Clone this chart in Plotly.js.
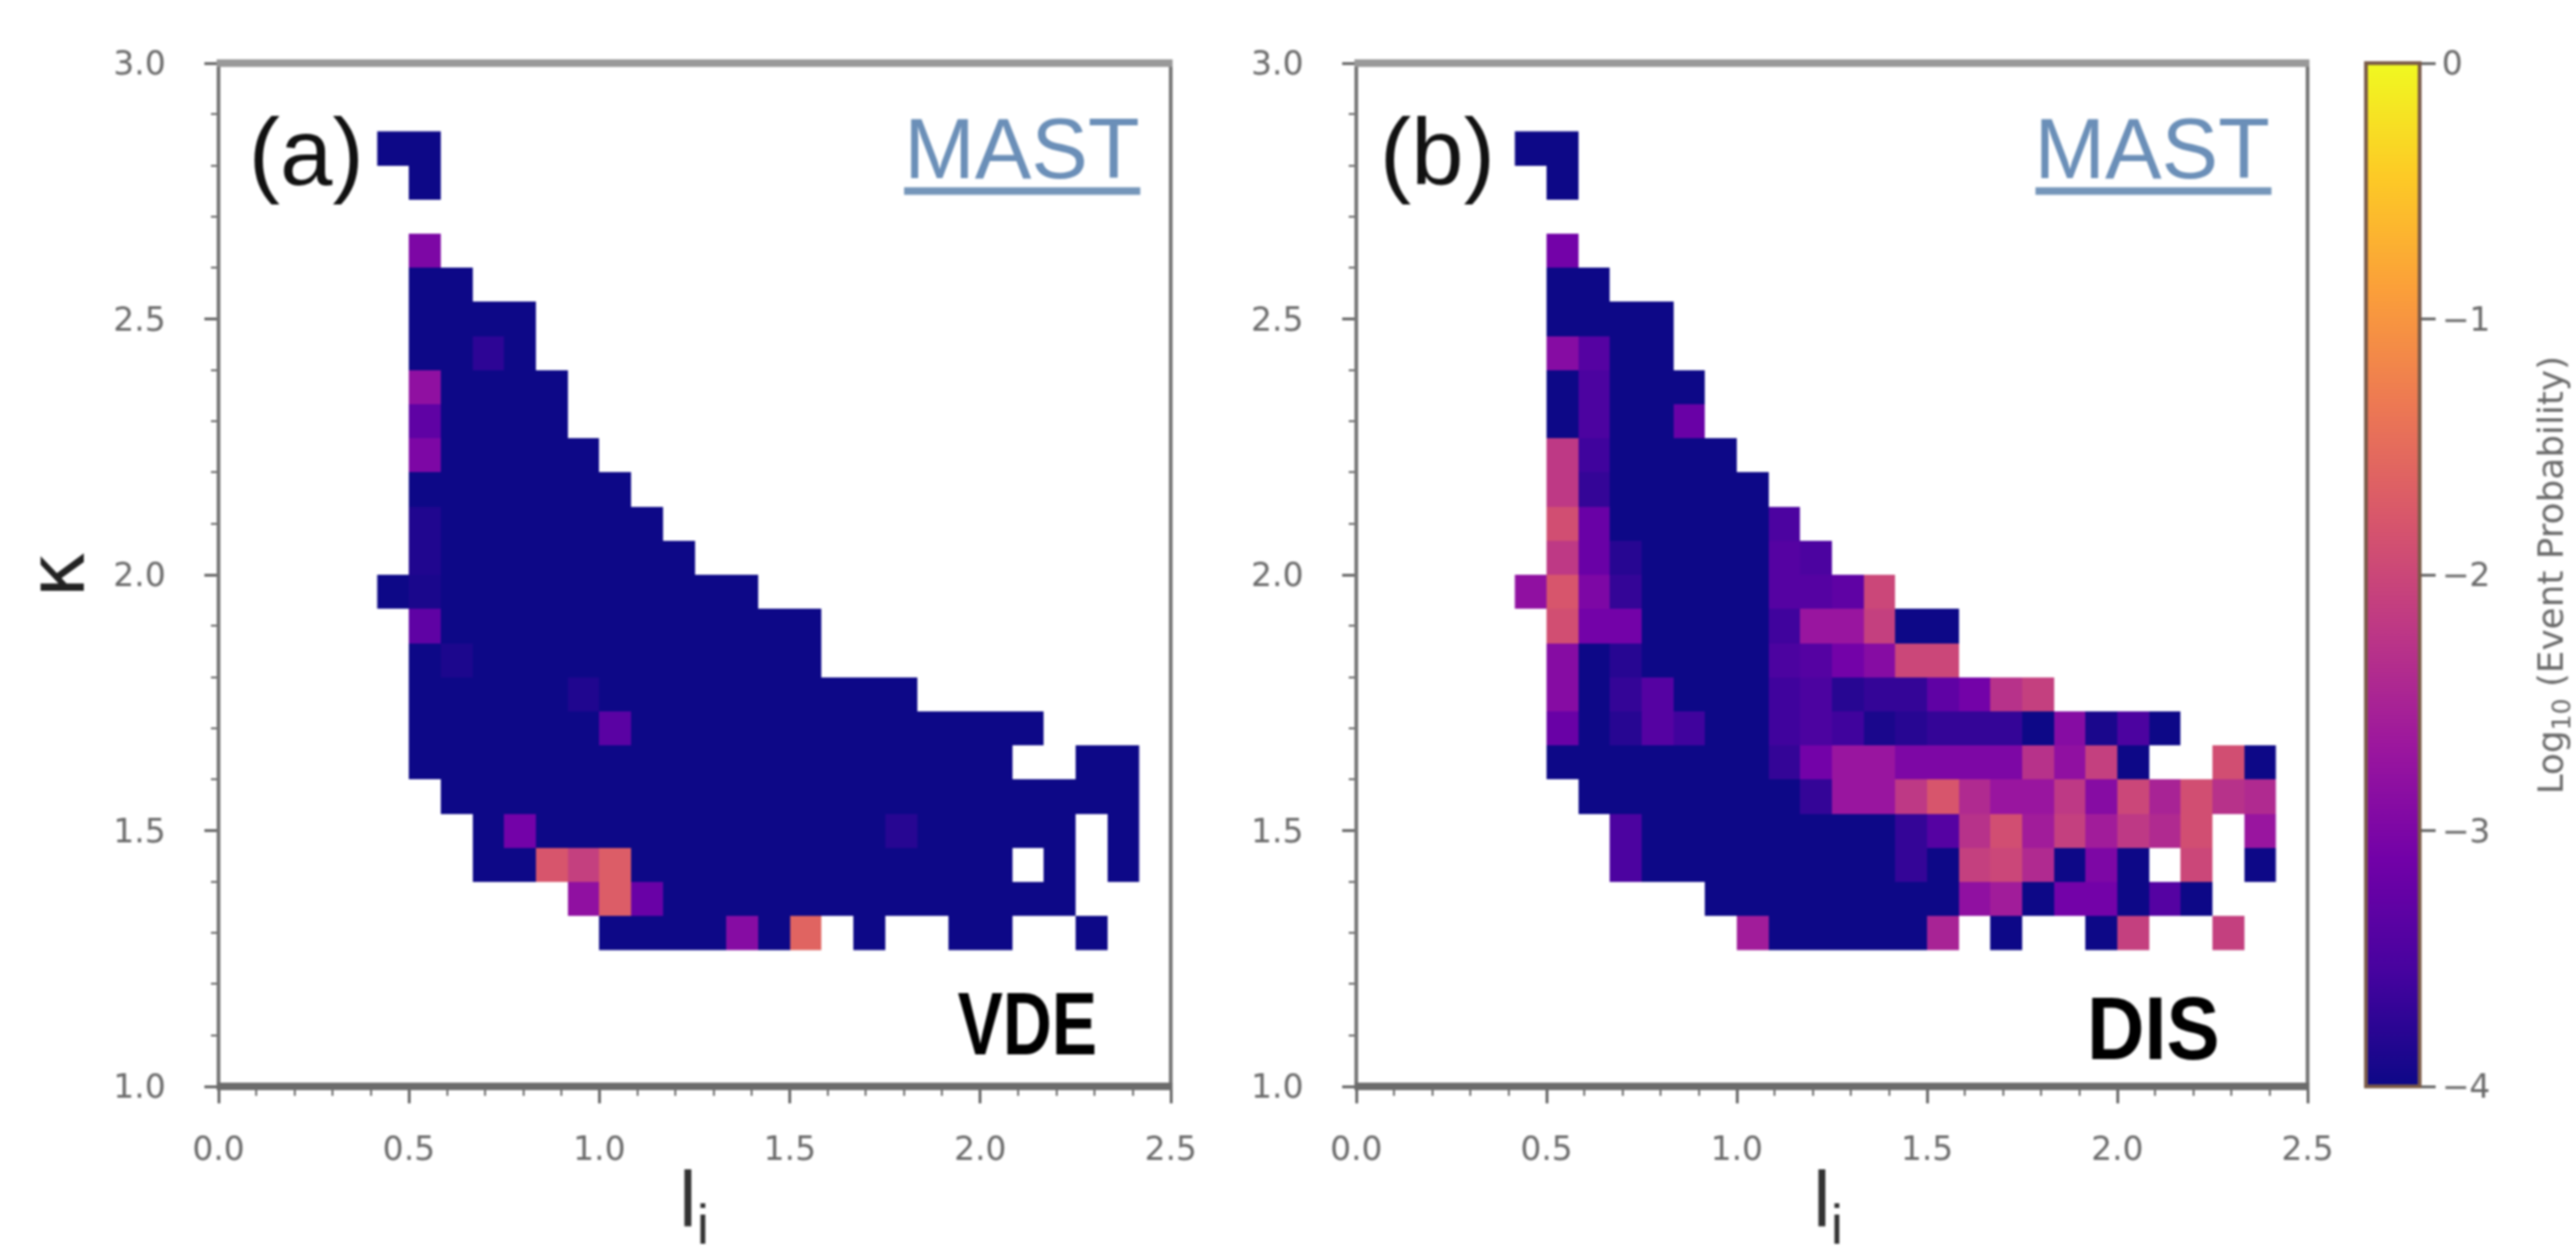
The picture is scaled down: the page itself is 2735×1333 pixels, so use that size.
<!DOCTYPE html>
<html>
<head>
<meta charset="utf-8">
<script src="https://cdn.plot.ly/plotly-3.0.1.min.js"></script>
<style>html,body{margin:0;padding:0;background:#fff}#plot{width:2735px;height:1333px;filter:blur(1.1px)}</style>
</head>
<body>
<div id="plot"></div>
<script>
const _ = null, D = -4;
// Bin edges of the 24 x 24 populated block of the 30 x 30 grid
const liEdges = [0.4167,0.5,0.5833,0.6667,0.75,0.8333,0.9167,1,1.0833,1.1667,1.25,1.3333,1.4167,1.5,1.5833,1.6667,1.75,1.8333,1.9167,2,2.0833,2.1667,2.25,2.3333,2.4167];
const kappaEdges = [1.2667,1.3333,1.4,1.4667,1.5333,1.6,1.6667,1.7333,1.8,1.8667,1.9333,2,2.0667,2.1333,2.2,2.2667,2.3333,2.4,2.4667,2.5333,2.6,2.6667,2.7333,2.8,2.8667];
// log10 event probability; rows run from low to high kappa, columns from low to high li
const vdeValues = [
[_,_,_,_,_,_,_,D,D,D,D,-2.9,D,-1.6,_,D,_,_,D,D,_,_,D,_],
[_,_,_,_,_,_,-2.8,-1.7,-3.2,D,D,D,D,D,D,D,D,D,D,D,D,D,_,_],
[_,_,_,D,D,-1.8,-2.1,-1.7,D,D,D,D,D,D,D,D,D,D,D,D,_,D,_,D],
[_,_,_,D,-3.1,D,D,D,D,D,D,D,D,D,D,D,-3.8,D,D,D,D,D,_,D],
[_,_,D,D,D,D,D,D,D,D,D,D,D,D,D,D,D,D,D,D,D,D,D,D],
[_,D,D,D,D,D,D,D,D,D,D,D,D,D,D,D,D,D,D,D,_,_,D,D],
[_,D,D,D,D,D,D,-3.35,D,D,D,D,D,D,D,D,D,D,D,D,D,_,_,_],
[_,D,D,D,D,D,-3.85,D,D,D,D,D,D,D,D,D,D,_,_,_,_,_,_,_],
[_,D,-3.88,D,D,D,D,D,D,D,D,D,D,D,_,_,_,_,_,_,_,_,_,_],
[_,-3.3,D,D,D,D,D,D,D,D,D,D,D,D,_,_,_,_,_,_,_,_,_,_],
[D,-3.9,D,D,D,D,D,D,D,D,D,D,_,_,_,_,_,_,_,_,_,_,_,_],
[_,-3.85,D,D,D,D,D,D,D,D,_,_,_,_,_,_,_,_,_,_,_,_,_,_],
[_,-3.85,D,D,D,D,D,D,D,_,_,_,_,_,_,_,_,_,_,_,_,_,_,_],
[_,D,D,D,D,D,D,D,_,_,_,_,_,_,_,_,_,_,_,_,_,_,_,_],
[_,-3,D,D,D,D,D,_,_,_,_,_,_,_,_,_,_,_,_,_,_,_,_,_],
[_,-3.3,D,D,D,D,_,_,_,_,_,_,_,_,_,_,_,_,_,_,_,_,_,_],
[_,-2.8,D,D,D,D,_,_,_,_,_,_,_,_,_,_,_,_,_,_,_,_,_,_],
[_,D,D,-3.75,D,_,_,_,_,_,_,_,_,_,_,_,_,_,_,_,_,_,_,_],
[_,D,D,D,D,_,_,_,_,_,_,_,_,_,_,_,_,_,_,_,_,_,_,_],
[_,D,D,_,_,_,_,_,_,_,_,_,_,_,_,_,_,_,_,_,_,_,_,_],
[_,-3,_,_,_,_,_,_,_,_,_,_,_,_,_,_,_,_,_,_,_,_,_,_],
[_,_,_,_,_,_,_,_,_,_,_,_,_,_,_,_,_,_,_,_,_,_,_,_],
[_,D,_,_,_,_,_,_,_,_,_,_,_,_,_,_,_,_,_,_,_,_,_,_],
[D,D,_,_,_,_,_,_,_,_,_,_,_,_,_,_,_,_,_,_,_,_,_,_]
];
const disValues = [
[_,_,_,_,_,_,_,-2.6,D,D,D,D,D,-2.5,_,D,_,_,D,-2.1,_,_,-2.1,_],
[_,_,_,_,_,_,D,D,D,D,D,D,D,D,-2.8,-2.6,D,-3.1,-3.1,D,-3.4,D,_,_],
[_,_,_,-3.5,D,D,D,D,D,D,D,D,-3.7,D,-2.1,-2,-2.4,D,-3,D,_,-2,_,D],
[_,_,_,-3.5,D,D,D,D,D,D,D,D,-3.7,-3.4,-2.3,-1.9,-2.6,-2.1,-2.6,-2.2,-2.4,-1.9,_,-2.7],
[_,_,D,D,D,D,D,D,D,-3.7,-2.7,-2.7,-2.2,-1.8,-2.4,-2.7,-2.7,-2.2,-2.9,-2,-2.5,-1.9,-2.3,-2.4],
[_,D,D,D,D,D,D,D,-3.7,-3.1,-2.7,-2.7,-3,-3,-3,-3,-2.3,-2.8,-2.1,D,_,_,-1.9,D],
[_,-3.2,D,-3.8,-3.4,-3.6,D,D,-3.6,-3.5,-3.6,-3.9,-3.8,-3.7,-3.7,-3.7,D,-2.9,-3.9,-3.5,D,_,_,_],
[_,-2.9,D,-3.7,-3.4,D,D,D,-3.6,-3.5,-3.8,-3.7,-3.7,-3.3,-3.1,-2.3,-2.1,_,_,_,_,_,_,_],
[_,-2.9,D,-3.8,D,D,D,D,-3.5,-3.4,-3.1,-2.9,-2,-2,_,_,_,_,_,_,_,_,_,_],
[_,-1.9,-3.1,-3.1,D,D,D,D,-3.6,-2.7,-2.7,-2.1,D,D,_,_,_,_,_,_,_,_,_,_],
[-2.8,-1.8,-3,-3.7,D,D,D,D,-3.4,-3.4,-3.3,-2,_,_,_,_,_,_,_,_,_,_,_,_],
[_,-2.2,-3.2,-3.8,D,D,D,D,-3.4,-3.5,_,_,_,_,_,_,_,_,_,_,_,_,_,_],
[_,-1.9,-3.2,D,D,D,D,D,-3.5,_,_,_,_,_,_,_,_,_,_,_,_,_,_,_],
[_,-2.2,-3.7,D,D,D,D,D,_,_,_,_,_,_,_,_,_,_,_,_,_,_,_,_],
[_,-2.2,-3.6,D,D,D,D,_,_,_,_,_,_,_,_,_,_,_,_,_,_,_,_,_],
[_,D,-3.5,D,D,-3.2,_,_,_,_,_,_,_,_,_,_,_,_,_,_,_,_,_,_],
[_,D,-3.5,D,D,D,_,_,_,_,_,_,_,_,_,_,_,_,_,_,_,_,_,_],
[_,-2.9,-3.4,D,D,_,_,_,_,_,_,_,_,_,_,_,_,_,_,_,_,_,_,_],
[_,D,D,D,D,_,_,_,_,_,_,_,_,_,_,_,_,_,_,_,_,_,_,_],
[_,D,D,_,_,_,_,_,_,_,_,_,_,_,_,_,_,_,_,_,_,_,_,_],
[_,-3.1,_,_,_,_,_,_,_,_,_,_,_,_,_,_,_,_,_,_,_,_,_,_],
[_,_,_,_,_,_,_,_,_,_,_,_,_,_,_,_,_,_,_,_,_,_,_,_],
[_,D,_,_,_,_,_,_,_,_,_,_,_,_,_,_,_,_,_,_,_,_,_,_],
[D,D,_,_,_,_,_,_,_,_,_,_,_,_,_,_,_,_,_,_,_,_,_,_]
];
const colorTicks = [-4,-3,-2,-1,0];
const liTicks = [0,0.5,1,1.5,2,2.5];
const kappaTicks = [1,1.5,2,2.5,3];
const panelLabels = ['(a)','(b)'];
const deviceLabel = 'MAST';
const eventLabels = ['VDE','DIS'];
const liTitle = 'l<sub>i</sub>';
const colorTitle = 'Log<sub>10</sub> (Event Probability)';

const plasma = [[0,'#0d0887'],[0.111,'#46039f'],[0.222,'#7201a8'],[0.333,'#9c179e'],[0.444,'#bd3786'],[0.556,'#d8576b'],[0.667,'#ed7953'],[0.778,'#fb9f3a'],[0.889,'#fdca26'],[1,'#f0f921']];
const W = 2735, H = 1333;
const px = v => v / W, py = v => 1 - v / H;
const tickGrey = '#666666', labelGrey = '#6a6a6a';

function xAxis(dom, anchor) {
  return {domain: dom, anchor, range: [0, 2.5], tickvals: liTicks, ticktext: liTicks.map(v => v.toFixed(1)),
    ticks: 'outside', ticklen: 17, tickwidth: 3, tickcolor: tickGrey, ticklabelstandoff: 18,
    minor: {dtick: 0.1, ticks: 'outside', ticklen: 9, tickwidth: 2, tickcolor: tickGrey, showgrid: false},
    showgrid: false, zeroline: false, showline: false,
    tickfont: {family: 'DejaVu Sans', size: 35, color: labelGrey}};
}
function yAxis(dom, anchor, withTitle) {
  const a = {domain: dom, anchor, range: [1, 3], tickvals: kappaTicks, ticktext: kappaTicks.map(v => v.toFixed(1)),
    ticks: 'outside', ticklen: 14, tickwidth: 3, tickcolor: tickGrey, ticklabelstandoff: 34,
    minor: {dtick: 0.1, ticks: 'outside', ticklen: 7, tickwidth: 2, tickcolor: tickGrey, showgrid: false},
    showgrid: false, zeroline: false, showline: false,
    tickfont: {family: 'DejaVu Sans', size: 35, color: labelGrey}};
  if (withTitle) a.title = {text: 'κ', font: {family: 'DejaVu Sans', size: 84, color: '#222222'}, standoff: 2};
  return a;
}
function frameShapes(xl, xr, yt, yb) {
  const line = (x0, y0, x1, y1, color, width) => ({type: 'line', xref: 'paper', yref: 'paper',
    x0: px(x0), x1: px(x1), y0: py(y0), y1: py(y1), line: {color, width}});
  return [
    line(xl, yt, xl, yb, '#777777', 4),
    line(xr, yt, xr, yb, '#777777', 4),
    line(xl - 2, yt, xr + 2, yt, '#999999', 8),
    line(xl - 2, yb, xr + 2, yb, '#6c6c6c', 8)
  ];
}
const yDom = [py(1153), py(67)];
const data = [
  {type: 'heatmap', x: liEdges, y: kappaEdges, z: vdeValues, coloraxis: 'coloraxis', xaxis: 'x', yaxis: 'y', hoverongaps: false},
  {type: 'heatmap', x: liEdges, y: kappaEdges, z: disValues, coloraxis: 'coloraxis', xaxis: 'x2', yaxis: 'y2', hoverongaps: false}
];
function textNote(text, x, y, size, family, color, anchorX, weight, angle) {
  return {text, xref: 'paper', yref: 'paper', x: px(x), y: py(y), xanchor: anchorX, yanchor: 'middle',
    showarrow: false, textangle: angle || 0, font: {family, size, color, weight: weight || 400}};
}
const layout = {
  width: W, height: H, margin: {l: 0, r: 0, t: 0, b: 0}, paper_bgcolor: '#fff', plot_bgcolor: '#fff',
  xaxis: xAxis([px(232), px(1243)], 'y'),
  yaxis: yAxis(yDom, 'x', true),
  xaxis2: xAxis([px(1440), px(2450)], 'y2'),
  yaxis2: yAxis(yDom, 'x2', false),
  coloraxis: {cmin: -4, cmax: 0, colorscale: plasma, colorbar: {
    x: px(2512), xanchor: 'left', xpad: 0, ypad: 0, y: py(1153), yanchor: 'bottom', len: 1086 / H, lenmode: 'fraction',
    thickness: 57, thicknessmode: 'pixels', outlinecolor: '#7a5a48', outlinewidth: 4,
    tickvals: colorTicks, ticks: 'outside', ticklen: 15, tickwidth: 3, tickcolor: tickGrey,
    tickprefix: '\u2003\u2002', tickfont: {family: 'DejaVu Sans', size: 35, color: labelGrey}
  }},
  shapes: [
    {type: 'line', xref: 'x', yref: 'y', x0: 1.80, x1: 2.42, y0: 2.75, y1: 2.75, line: {color: '#7596ba', width: 8}},
    {type: 'line', xref: 'x2', yref: 'y2', x0: 1.785, x1: 2.405, y0: 2.75, y1: 2.75, line: {color: '#7596ba', width: 8}},
    ...frameShapes(232, 1243, 67, 1153),
    ...frameShapes(1440, 2450, 67, 1153)
  ],
  annotations: [
    textNote(panelLabels[0], 262, 161, 100, 'Liberation Sans', '#111111', 'left'),
    textNote(panelLabels[1], 1463, 161, 100, 'Liberation Sans', '#111111', 'left'),
    textNote(deviceLabel, 1085, 158, 90, 'Liberation Sans', '#6b8fb8', 'center'),
    textNote(deviceLabel, 2285, 158, 90, 'Liberation Sans', '#6b8fb8', 'center'),
    textNote(eventLabels[0], 1090, 1086, 95, 'Liberation Sans', '#000000', 'center', 700),
    textNote(eventLabels[1], 2286, 1091, 95, 'Liberation Sans', '#000000', 'center', 700),
    textNote(liTitle, 737, 1279, 84, 'Liberation Sans', '#333333', 'center'),
    textNote(liTitle, 1941, 1279, 84, 'Liberation Sans', '#333333', 'center'),
    textNote(colorTitle, 2710, 611, 38, 'DejaVu Sans', labelGrey, 'center', 400, -90)
  ]
};
Plotly.newPlot('plot', data, layout, {displayModeBar: false, responsive: false}).then(gd => {
  // The reference sets these two labels in a condensed bold face
  const widths = {VDE: 148, DIS: 141};
  gd.querySelectorAll('.annotation-text').forEach(t => {
    const w = widths[t.textContent];
    if (w) { t.setAttribute('textLength', w); t.setAttribute('lengthAdjust', 'spacingAndGlyphs'); }
  });
});
</script>
</body>
</html>
